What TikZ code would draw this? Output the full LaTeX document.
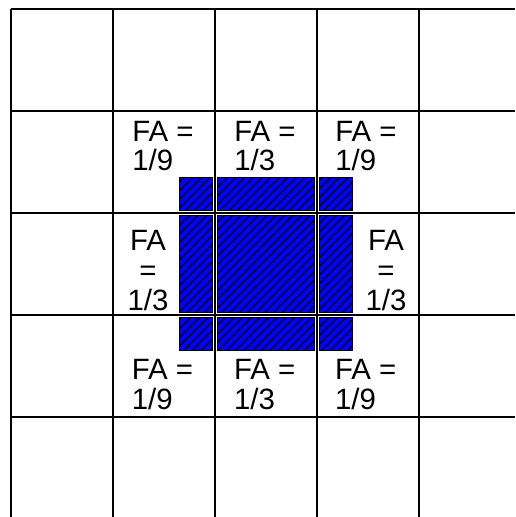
\documentclass[tikz,border=0pt]{standalone}
\usepackage{fontspec}
\setmainfont{Liberation Sans}
\usepackage{xcolor}
\usepackage{tikz}
\usetikzlibrary{patterns.meta}
\tikzset{gridline/.style={line width=0.8pt, black},
  srcblk/.style={draw=black, line width=0.4pt, fill=blue,
    postaction={pattern={Lines[angle=45,distance=3.4pt,line width=0.7pt]}, pattern color=black}},
  falabel/.style={inner sep=0pt, font=\fontsize{16.4}{16.7}\selectfont}}
\newcommand{\blk}[4]{\draw[srcblk] (#1,#2) rectangle (#3,#4);}

\begin{document}
\begin{tikzpicture}[scale=2]
\useasboundingbox (-0.108,0.02) rectangle (4.941,5.088);
\fill[white] (-0.108,0.02) rectangle (4.941,5.088);
% blue source square, split by the grid lines
\blk{1.65}{3.025}{1.977}{3.35};
\blk{2.023}{3.025}{2.977}{3.35};
\blk{3.023}{3.025}{3.35}{3.35};
\blk{1.65}{2.023}{1.977}{2.977};
\blk{2.023}{2.023}{2.977}{2.977};
\blk{3.023}{2.023}{3.35}{2.977};
\blk{1.65}{1.65}{1.977}{1.977};
\blk{2.023}{1.65}{2.977}{1.977};
\blk{3.023}{1.65}{3.35}{1.977};
\draw[gridline] (0,0.02) grid (4.941,5);
% view factors (base = last line)
\node[falabel, anchor=base west, align=left] (fa11) at (1.186,3.412) {FA =\\1/9};
\node[falabel, anchor=base west, align=left] (fa12) at (2.186,3.412) {FA =\\1/3};
\node[falabel, anchor=base west, align=left] (fa13) at (3.176,3.412) {FA =\\1/9};
\node[falabel, anchor=base, align=center] (fa21) at (1.343,2.049) {FA\\=\\1/3};
\node[falabel, anchor=base, align=center] (fa23) at (3.676,2.049) {FA\\=\\1/3};
\node[falabel, anchor=base west, align=left] (fa31) at (1.18,1.078) {FA =\\1/9};
\node[falabel, anchor=base west, align=left] (fa32) at (2.183,1.078) {FA =\\1/3};
\node[falabel, anchor=base west, align=left] (fa33) at (3.173,1.078) {FA =\\1/9};
\end{tikzpicture}
\end{document}
